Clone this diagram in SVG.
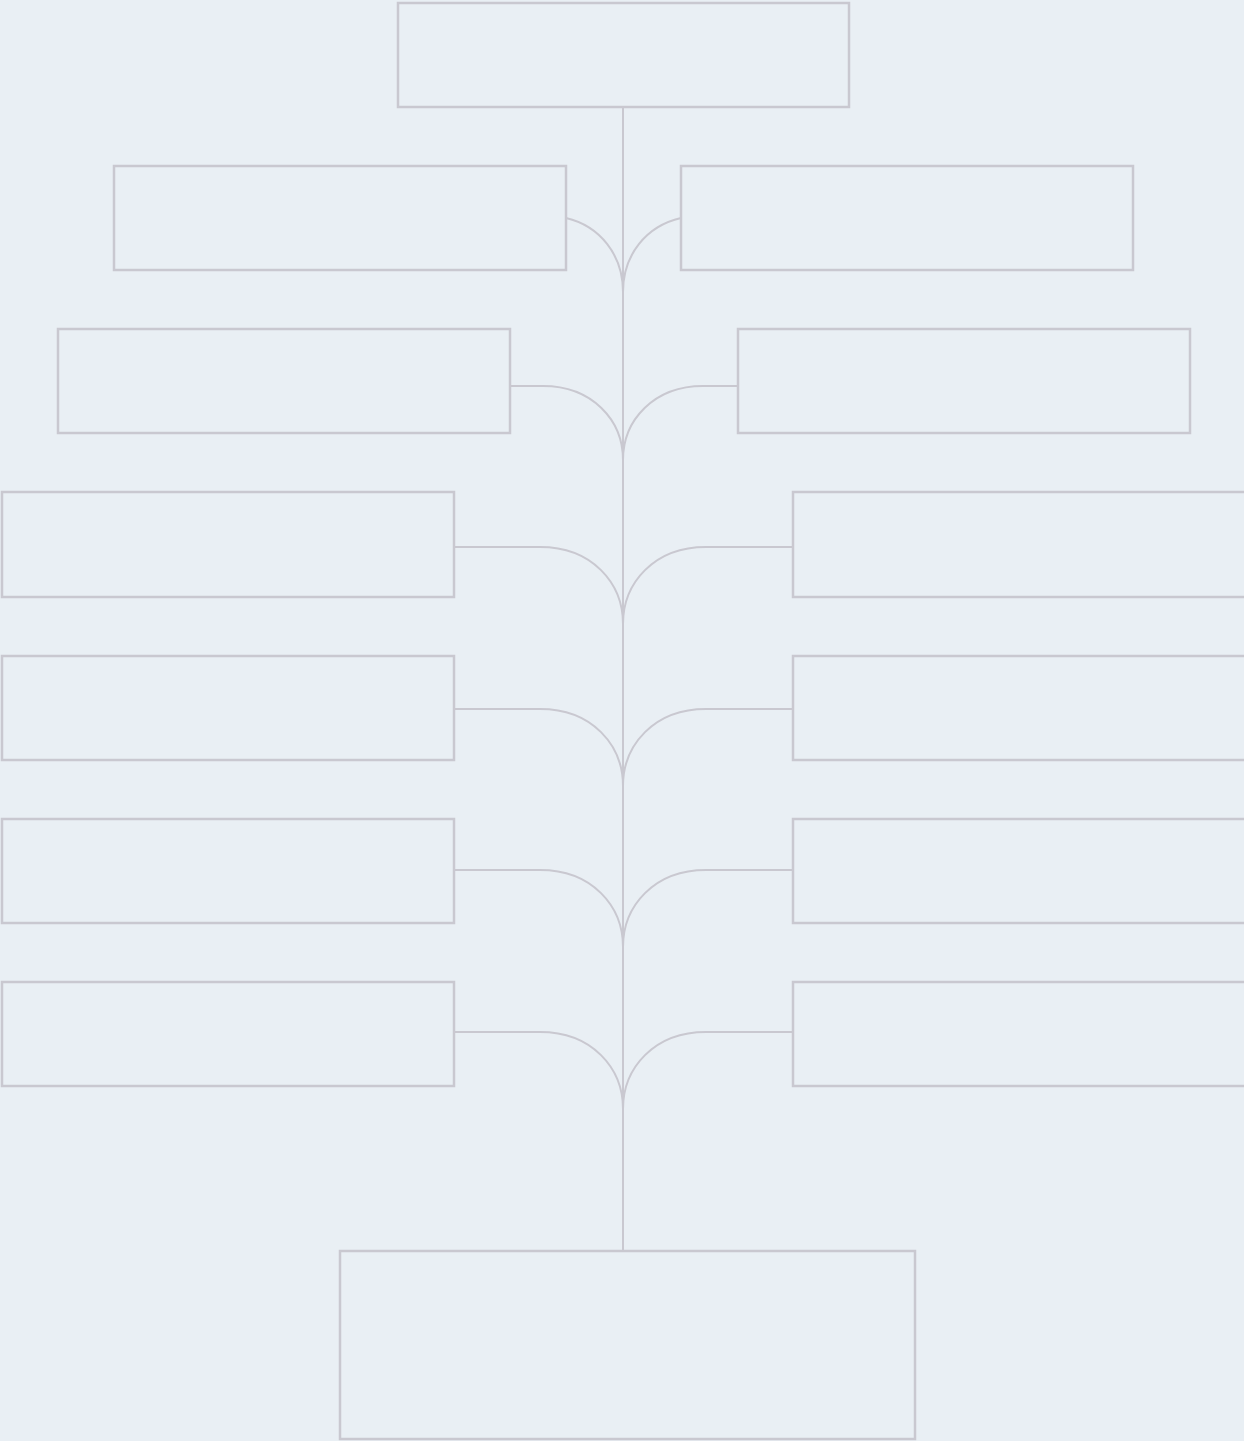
<svg xmlns="http://www.w3.org/2000/svg" width="1244" height="1441" viewBox="0 0 1244 1441">
<style>
.box{fill:none;stroke:#c9c8d0;stroke-width:2.5}
.con{fill:none;stroke:#c9c8d0;stroke-width:2}
</style>
<rect x="0" y="0" width="1244" height="1441" fill="#e9eff4"/>
<g id="connectors">
<path class="con" d="M623,107 V1251"/>
<path class="con" d="M566,218 C600,226 623,255 623,292"/>
<path class="con" d="M681,218 C646,226 623,255 623,292"/>
<path class="con" d="M510,386 H543 C592,386 623,420 623,460"/>
<path class="con" d="M738,386 H703 C654,386 623,420 623,460"/>
<path class="con" d="M454,547 H540 C592,547 623,583 623,624"/>
<path class="con" d="M793,547 H706 C654,547 623,583 623,624"/>
<path class="con" d="M454,709 H540 C592,709 623,745 623,786"/>
<path class="con" d="M793,709 H706 C654,709 623,745 623,786"/>
<path class="con" d="M454,870 H540 C592,870 623,906 623,947"/>
<path class="con" d="M793,870 H706 C654,870 623,906 623,947"/>
<path class="con" d="M454,1032 H540 C592,1032 623,1068 623,1109"/>
<path class="con" d="M793,1032 H706 C654,1032 623,1068 623,1109"/>
</g>
<g id="n-top"><rect class="box" x="398" y="3" width="451" height="104"/></g>
<g id="n-l1"><rect class="box" x="114" y="166" width="452" height="104"/></g>
<g id="n-r1"><rect class="box" x="681" y="166" width="452" height="104"/></g>
<g id="n-l2"><rect class="box" x="58" y="329" width="452" height="104"/></g>
<g id="n-r2"><rect class="box" x="738" y="329" width="452" height="104"/></g>
<g id="n-l3"><rect class="box" x="2" y="492" width="452" height="105"/></g>
<g id="n-r3"><rect class="box" x="793" y="492" width="460" height="105"/></g>
<g id="n-l4"><rect class="box" x="2" y="656" width="452" height="104"/></g>
<g id="n-r4"><rect class="box" x="793" y="656" width="460" height="104"/></g>
<g id="n-l5"><rect class="box" x="2" y="819" width="452" height="104"/></g>
<g id="n-r5"><rect class="box" x="793" y="819" width="460" height="104"/></g>
<g id="n-l6"><rect class="box" x="2" y="982" width="452" height="104"/></g>
<g id="n-r6"><rect class="box" x="793" y="982" width="460" height="104"/></g>
<g id="n-bottom"><rect class="box" x="340" y="1251" width="575" height="188"/></g>
</svg>
